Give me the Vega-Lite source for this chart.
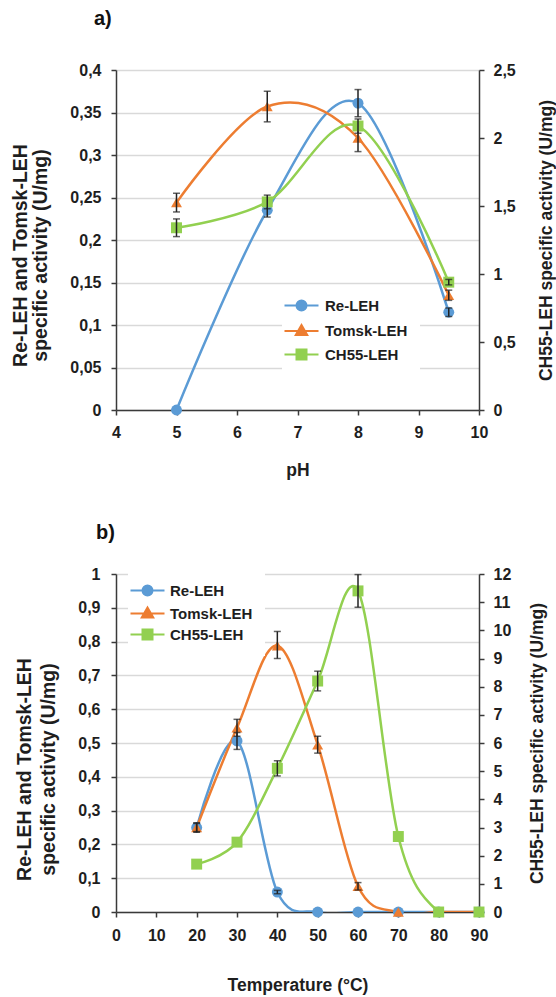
{
  "$schema": "https://vega.github.io/schema/vega-lite/v6.json",
  "padding": {"left": 10, "top": 9, "right": 5, "bottom": 5},
  "background": "white",
  "config": {
    "view": {"stroke": null},
    "font": "Liberation Sans",
    "locale": {"number": {"decimal": ",", "thousands": ".", "grouping": [3], "currency": ["", "€"]}},
    "axis": {
      "labelFont": "Liberation Sans", "labelFontWeight": "bold", "labelFontSize": 16, "labelColor": "#1e1e1e",
      "titleFont": "Liberation Sans", "titleFontWeight": "bold", "titleFontSize": 17.5, "titleColor": "#1e1e1e",
      "domainColor": "#3a3a3a", "domainWidth": 1.5, "tickColor": "#3a3a3a", "tickWidth": 1.5, "tickSize": 5,
      "gridColor": "#d9d9d9", "gridWidth": 1.5, "labelFlush": false, "labelOverlap": false, "labelBound": false
    },
    "legend": {"labelFont": "Liberation Sans", "labelFontWeight": "bold", "labelFontSize": 15, "labelColor": "#1e1e1e", "symbolStrokeWidth": 2, "symbolOpacity": 1},
    "title": {"font": "Liberation Sans", "fontWeight": "bold", "fontSize": 20, "color": "#111111"}
  },
  "datasets": {
    "ph": [
      {"s": "Re-LEH", "x": 5, "y": 0, "lo": null, "hi": null},
      {"s": "Re-LEH", "x": 6.5, "y": 0.235, "lo": 0.227, "hi": 0.243},
      {"s": "Re-LEH", "x": 8, "y": 0.361, "lo": 0.345, "hi": 0.377},
      {"s": "Re-LEH", "x": 9.5, "y": 0.115, "lo": 0.11, "hi": 0.12},
      {"s": "Tomsk-LEH", "x": 5, "y": 0.244, "lo": 0.233, "hi": 0.255},
      {"s": "Tomsk-LEH", "x": 6.5, "y": 0.357, "lo": 0.339, "hi": 0.375},
      {"s": "Tomsk-LEH", "x": 8, "y": 0.32, "lo": 0.304, "hi": 0.336},
      {"s": "Tomsk-LEH", "x": 9.5, "y": 0.135, "lo": 0.129, "hi": 0.141},
      {"s": "CH55-LEH", "x": 5, "y": 1.34, "lo": 1.275, "hi": 1.405},
      {"s": "CH55-LEH", "x": 6.5, "y": 1.53, "lo": 1.48, "hi": 1.58},
      {"s": "CH55-LEH", "x": 8, "y": 2.088, "lo": 2.035, "hi": 2.14},
      {"s": "CH55-LEH", "x": 9.5, "y": 0.94, "lo": 0.92, "hi": 0.96}
    ],
    "temp": [
      {"s": "Re-LEH", "x": 20, "y": 0.25, "lo": 0.238, "hi": 0.262},
      {"s": "Re-LEH", "x": 30, "y": 0.506, "lo": 0.481, "hi": 0.531},
      {"s": "Re-LEH", "x": 40, "y": 0.059, "lo": 0.054, "hi": 0.064},
      {"s": "Re-LEH", "x": 50, "y": 0, "lo": null, "hi": null},
      {"s": "Re-LEH", "x": 60, "y": 0, "lo": null, "hi": null},
      {"s": "Re-LEH", "x": 70, "y": 0, "lo": null, "hi": null},
      {"s": "Re-LEH", "x": 80, "y": 0, "lo": null, "hi": null},
      {"s": "Re-LEH", "x": 90, "y": 0, "lo": null, "hi": null},
      {"s": "Tomsk-LEH", "x": 20, "y": 0.25, "lo": 0.236, "hi": 0.264},
      {"s": "Tomsk-LEH", "x": 30, "y": 0.545, "lo": 0.52, "hi": 0.57},
      {"s": "Tomsk-LEH", "x": 40, "y": 0.788, "lo": 0.75, "hi": 0.83},
      {"s": "Tomsk-LEH", "x": 50, "y": 0.495, "lo": 0.47, "hi": 0.52},
      {"s": "Tomsk-LEH", "x": 60, "y": 0.076, "lo": 0.065, "hi": 0.087},
      {"s": "Tomsk-LEH", "x": 70, "y": 0, "lo": null, "hi": null},
      {"s": "Tomsk-LEH", "x": 80, "y": 0, "lo": null, "hi": null},
      {"s": "Tomsk-LEH", "x": 90, "y": 0, "lo": null, "hi": null},
      {"s": "CH55-LEH", "x": 20, "y": 1.7, "lo": null, "hi": null},
      {"s": "CH55-LEH", "x": 30, "y": 2.48, "lo": null, "hi": null},
      {"s": "CH55-LEH", "x": 40, "y": 5.1, "lo": 4.83, "hi": 5.37},
      {"s": "CH55-LEH", "x": 50, "y": 8.2, "lo": 7.85, "hi": 8.55},
      {"s": "CH55-LEH", "x": 60, "y": 11.4, "lo": 10.82, "hi": 11.98},
      {"s": "CH55-LEH", "x": 70, "y": 2.68, "lo": null, "hi": null},
      {"s": "CH55-LEH", "x": 80, "y": 0, "lo": null, "hi": null},
      {"s": "CH55-LEH", "x": 90, "y": 0, "lo": null, "hi": null}
    ]
  },
  "bounds": "flush",
  "spacing": 164,
  "resolve": {"scale": {"shape": "independent", "fill": "independent", "stroke": "independent", "x": "independent", "y": "independent"}, "legend": {"shape": "independent", "fill": "independent", "stroke": "independent"}},
  "vconcat": [
    {
      "title": {"text": "a)", "anchor": "start", "frame": "group", "dx": -22, "offset": 33},
      "width": 363,
      "height": 340,
      "data": {"name": "ph"},
      "layer": [
        {
          "layer": [
            {
              "transform": [{"filter": "datum.s === 'Re-LEH'"}],
              "mark": {"type": "line", "interpolate": "cardinal", "strokeWidth": 2.5, "clip": true, "color": "#5B9BD5"},
              "encoding": {
                "x": {"field": "x", "type": "quantitative", "scale": {"domain": [4, 10], "nice": false}, "axis": {"title": "pH", "values": [4, 5, 6, 7, 8, 9, 10], "format": "d", "grid": false, "labelPadding": 9, "titlePadding": 21, "labelOverlap": false}},
                "y": {"field": "y", "type": "quantitative", "scale": {"domain": [0, 0.4], "nice": false}, "axis": {"title": ["Re-LEH and Tomsk-LEH", "specific activity  (U/mg)"], "values": [0, 0.05, 0.1, 0.15, 0.2, 0.25, 0.3, 0.35, 0.4], "format": "~g", "grid": true, "labelPadding": 10, "titlePadding": 19, "titleLineHeight": 20, "titleFontSize": 19.5, "titleY": 185, "labelOverlap": false}}
              }
            },
            {
              "transform": [{"filter": "datum.s === 'Tomsk-LEH'"}],
              "mark": {"type": "line", "interpolate": "cardinal", "strokeWidth": 2.5, "clip": true, "color": "#ED7D31"},
              "encoding": {
                "x": {"field": "x", "type": "quantitative", "axis": {"title": "pH", "values": [4, 5, 6, 7, 8, 9, 10], "format": "d", "grid": false, "labelPadding": 9, "titlePadding": 21, "labelOverlap": false}},
                "y": {"field": "y", "type": "quantitative", "axis": {"title": ["Re-LEH and Tomsk-LEH", "specific activity  (U/mg)"], "values": [0, 0.05, 0.1, 0.15, 0.2, 0.25, 0.3, 0.35, 0.4], "format": "~g", "grid": true, "labelPadding": 10, "titlePadding": 19, "titleLineHeight": 20, "titleFontSize": 19.5, "titleY": 185, "labelOverlap": false}}
              }
            },
            {
              "transform": [{"filter": "datum.s === 'Re-LEH'"}],
              "mark": {"type": "point", "filled": true, "shape": "circle", "size": 120, "opacity": 1, "color": "#5B9BD5"},
              "encoding": {
                "x": {"field": "x", "type": "quantitative", "axis": {"title": "pH", "values": [4, 5, 6, 7, 8, 9, 10], "format": "d", "grid": false, "labelPadding": 9, "titlePadding": 21, "labelOverlap": false}},
                "y": {"field": "y", "type": "quantitative", "axis": {"title": ["Re-LEH and Tomsk-LEH", "specific activity  (U/mg)"], "values": [0, 0.05, 0.1, 0.15, 0.2, 0.25, 0.3, 0.35, 0.4], "format": "~g", "grid": true, "labelPadding": 10, "titlePadding": 19, "titleLineHeight": 20, "titleFontSize": 19.5, "titleY": 185, "labelOverlap": false}}
              }
            },
            {
              "transform": [{"filter": "datum.s === 'Tomsk-LEH'"}],
              "mark": {"type": "point", "filled": true, "shape": "triangle-up", "size": 120, "opacity": 1, "color": "#ED7D31"},
              "encoding": {
                "x": {"field": "x", "type": "quantitative", "axis": {"title": "pH", "values": [4, 5, 6, 7, 8, 9, 10], "format": "d", "grid": false, "labelPadding": 9, "titlePadding": 21, "labelOverlap": false}},
                "y": {"field": "y", "type": "quantitative", "axis": {"title": ["Re-LEH and Tomsk-LEH", "specific activity  (U/mg)"], "values": [0, 0.05, 0.1, 0.15, 0.2, 0.25, 0.3, 0.35, 0.4], "format": "~g", "grid": true, "labelPadding": 10, "titlePadding": 19, "titleLineHeight": 20, "titleFontSize": 19.5, "titleY": 185, "labelOverlap": false}}
              }
            },
            {
              "transform": [{"filter": "datum.s !== 'CH55-LEH' && isValid(datum.lo)"}],
              "mark": {"type": "errorbar", "color": "#222222", "thickness": 1.5, "ticks": {"size": 7}},
              "encoding": {
                "x": {"field": "x", "type": "quantitative", "axis": {"title": "pH", "values": [4, 5, 6, 7, 8, 9, 10], "format": "d", "grid": false, "labelPadding": 9, "titlePadding": 21, "labelOverlap": false}},
                "y": {"field": "lo", "type": "quantitative", "axis": {"title": ["Re-LEH and Tomsk-LEH", "specific activity  (U/mg)"], "values": [0, 0.05, 0.1, 0.15, 0.2, 0.25, 0.3, 0.35, 0.4], "format": "~g", "grid": true, "labelPadding": 10, "titlePadding": 19, "titleLineHeight": 20, "titleFontSize": 19.5, "titleY": 185, "labelOverlap": false}},
                "y2": {"field": "hi"}
              }
            },
            {
              "transform": [{"filter": "false"}],
              "mark": {"type": "point", "filled": true, "strokeWidth": 2, "size": 100, "opacity": 1},
              "encoding": {
                "x": {"field": "x", "type": "quantitative", "axis": {"title": "pH", "values": [4, 5, 6, 7, 8, 9, 10], "format": "d", "grid": false, "labelPadding": 9, "titlePadding": 21, "labelOverlap": false}},
                "y": {"field": "y", "type": "quantitative", "axis": {"title": ["Re-LEH and Tomsk-LEH", "specific activity  (U/mg)"], "values": [0, 0.05, 0.1, 0.15, 0.2, 0.25, 0.3, 0.35, 0.4], "format": "~g", "grid": true, "labelPadding": 10, "titlePadding": 19, "titleLineHeight": 20, "titleFontSize": 19.5, "titleY": 185, "labelOverlap": false}},
                "fill": {"field": "s", "type": "nominal", "scale": {"domain": ["Re-LEH", "Tomsk-LEH", "CH55-LEH"], "range": ["#5B9BD5", "#ED7D31", "#92D050"]},
                  "legend": {"orient": "none", "legendX": 166, "legendY": 216, "title": null, "padding": 12, "fillColor": "white", "symbolSize": 100, "labelOffset": 16, "rowPadding": 5.5}},
                "stroke": {"field": "s", "type": "nominal", "scale": {"domain": ["Re-LEH", "Tomsk-LEH", "CH55-LEH"], "range": ["#5B9BD5", "#ED7D31", "#92D050"]},
                  "legend": {"orient": "none", "legendX": 166, "legendY": 216, "title": null, "padding": 12, "fillColor": "white", "symbolSize": 100, "labelOffset": 16, "rowPadding": 5.5}},
                "shape": {"field": "s", "type": "nominal", "scale": {"domain": ["Re-LEH", "Tomsk-LEH", "CH55-LEH"], "range": ["M-3.4,0H3.4M1,0A1,1,0,1,1,-1,0A1,1,0,1,1,1,0Z", "M-3.4,0H3.4M0,-1.2L1.15,0.8L-1.15,0.8Z", "M-3.4,0H3.4M-1,-1H1V1H-1Z"]},
                  "legend": {"orient": "none", "legendX": 166, "legendY": 216, "title": null, "padding": 12, "fillColor": "white", "symbolSize": 100, "labelOffset": 16, "rowPadding": 5.5}}
              }
            }
          ]
        },
        {
          "layer": [
            {
              "transform": [{"filter": "datum.s === 'CH55-LEH'"}],
              "mark": {"type": "line", "interpolate": "cardinal", "strokeWidth": 2.5, "clip": true, "color": "#92D050"},
              "encoding": {
                "x": {"field": "x", "type": "quantitative"},
                "y": {"field": "y", "type": "quantitative", "scale": {"domain": [0, 2.5], "nice": false}, "axis": {"title": "CH55-LEH specific activity  (U/mg)", "values": [0, 0.5, 1, 1.5, 2, 2.5], "format": "~g", "grid": false, "labelPadding": 9, "titlePadding": 22, "titleAngle": 270, "titleBaseline": "top", "labelOverlap": false}}
              }
            },
            {
              "transform": [{"filter": "datum.s === 'CH55-LEH'"}],
              "mark": {"type": "point", "filled": true, "shape": "square", "size": 120, "opacity": 1, "color": "#92D050"},
              "encoding": {
                "x": {"field": "x", "type": "quantitative"},
                "y": {"field": "y", "type": "quantitative", "axis": {"title": "CH55-LEH specific activity  (U/mg)", "values": [0, 0.5, 1, 1.5, 2, 2.5], "format": "~g", "grid": false, "labelPadding": 9, "titlePadding": 22, "titleAngle": 270, "titleBaseline": "top", "labelOverlap": false}}
              }
            },
            {
              "transform": [{"filter": "datum.s === 'CH55-LEH' && isValid(datum.lo)"}],
              "mark": {"type": "errorbar", "color": "#222222", "thickness": 1.5, "ticks": {"size": 7}},
              "encoding": {
                "x": {"field": "x", "type": "quantitative"},
                "y": {"field": "lo", "type": "quantitative", "axis": {"title": "CH55-LEH specific activity  (U/mg)", "values": [0, 0.5, 1, 1.5, 2, 2.5], "format": "~g", "grid": false, "labelPadding": 9, "titlePadding": 22, "titleAngle": 270, "titleBaseline": "top", "labelOverlap": false}},
                "y2": {"field": "hi"}
              }
            }
          ]
        }
      ],
      "resolve": {"scale": {"y": "independent"}}
    },
    {
      "title": {"text": "b)", "anchor": "start", "frame": "group", "dx": -20, "offset": 23},
      "width": 363,
      "height": 338,
      "data": {"name": "temp"},
      "layer": [
        {
          "layer": [
            {
              "transform": [{"filter": "datum.s === 'Re-LEH'"}],
              "mark": {"type": "line", "interpolate": "cardinal", "strokeWidth": 2.5, "clip": true, "color": "#5B9BD5"},
              "encoding": {
                "x": {"field": "x", "type": "quantitative", "scale": {"domain": [0, 90], "nice": false}, "axis": {"title": "Temperature (°C)", "values": [0, 10, 20, 30, 40, 50, 60, 70, 80, 90], "format": "d", "grid": false, "labelPadding": 10, "titlePadding": 33, "labelOverlap": false}},
                "y": {"field": "y", "type": "quantitative", "scale": {"domain": [0, 1], "nice": false}, "axis": {"title": ["Re-LEH and Tomsk-LEH", "specific activity  (U/mg)"], "values": [0, 0.1, 0.2, 0.3, 0.4, 0.5, 0.6, 0.7, 0.8, 0.9, 1], "format": "~g", "grid": true, "labelPadding": 11, "titlePadding": 19, "titleLineHeight": 24, "titleFontSize": 19.5, "titleY": 195, "labelOverlap": false}}
              }
            },
            {
              "transform": [{"filter": "datum.s === 'Tomsk-LEH'"}],
              "mark": {"type": "line", "interpolate": "cardinal", "strokeWidth": 2.5, "clip": true, "color": "#ED7D31"},
              "encoding": {
                "x": {"field": "x", "type": "quantitative", "axis": {"title": "Temperature (°C)", "values": [0, 10, 20, 30, 40, 50, 60, 70, 80, 90], "format": "d", "grid": false, "labelPadding": 10, "titlePadding": 33, "labelOverlap": false}},
                "y": {"field": "y", "type": "quantitative", "axis": {"title": ["Re-LEH and Tomsk-LEH", "specific activity  (U/mg)"], "values": [0, 0.1, 0.2, 0.3, 0.4, 0.5, 0.6, 0.7, 0.8, 0.9, 1], "format": "~g", "grid": true, "labelPadding": 11, "titlePadding": 19, "titleLineHeight": 24, "titleFontSize": 19.5, "titleY": 195, "labelOverlap": false}}
              }
            },
            {
              "transform": [{"filter": "datum.s === 'Re-LEH'"}],
              "mark": {"type": "point", "filled": true, "shape": "circle", "size": 120, "opacity": 1, "color": "#5B9BD5"},
              "encoding": {
                "x": {"field": "x", "type": "quantitative", "axis": {"title": "Temperature (°C)", "values": [0, 10, 20, 30, 40, 50, 60, 70, 80, 90], "format": "d", "grid": false, "labelPadding": 10, "titlePadding": 33, "labelOverlap": false}},
                "y": {"field": "y", "type": "quantitative", "axis": {"title": ["Re-LEH and Tomsk-LEH", "specific activity  (U/mg)"], "values": [0, 0.1, 0.2, 0.3, 0.4, 0.5, 0.6, 0.7, 0.8, 0.9, 1], "format": "~g", "grid": true, "labelPadding": 11, "titlePadding": 19, "titleLineHeight": 24, "titleFontSize": 19.5, "titleY": 195, "labelOverlap": false}}
              }
            },
            {
              "transform": [{"filter": "datum.s === 'Tomsk-LEH'"}],
              "mark": {"type": "point", "filled": true, "shape": "triangle-up", "size": 120, "opacity": 1, "color": "#ED7D31"},
              "encoding": {
                "x": {"field": "x", "type": "quantitative", "axis": {"title": "Temperature (°C)", "values": [0, 10, 20, 30, 40, 50, 60, 70, 80, 90], "format": "d", "grid": false, "labelPadding": 10, "titlePadding": 33, "labelOverlap": false}},
                "y": {"field": "y", "type": "quantitative", "axis": {"title": ["Re-LEH and Tomsk-LEH", "specific activity  (U/mg)"], "values": [0, 0.1, 0.2, 0.3, 0.4, 0.5, 0.6, 0.7, 0.8, 0.9, 1], "format": "~g", "grid": true, "labelPadding": 11, "titlePadding": 19, "titleLineHeight": 24, "titleFontSize": 19.5, "titleY": 195, "labelOverlap": false}}
              }
            },
            {
              "transform": [{"filter": "datum.s !== 'CH55-LEH' && isValid(datum.lo)"}],
              "mark": {"type": "errorbar", "color": "#222222", "thickness": 1.5, "ticks": {"size": 7}},
              "encoding": {
                "x": {"field": "x", "type": "quantitative", "axis": {"title": "Temperature (°C)", "values": [0, 10, 20, 30, 40, 50, 60, 70, 80, 90], "format": "d", "grid": false, "labelPadding": 10, "titlePadding": 33, "labelOverlap": false}},
                "y": {"field": "lo", "type": "quantitative", "axis": {"title": ["Re-LEH and Tomsk-LEH", "specific activity  (U/mg)"], "values": [0, 0.1, 0.2, 0.3, 0.4, 0.5, 0.6, 0.7, 0.8, 0.9, 1], "format": "~g", "grid": true, "labelPadding": 11, "titlePadding": 19, "titleLineHeight": 24, "titleFontSize": 19.5, "titleY": 195, "labelOverlap": false}},
                "y2": {"field": "hi"}
              }
            },
            {
              "transform": [{"filter": "false"}],
              "mark": {"type": "point", "filled": true, "strokeWidth": 2, "size": 100, "opacity": 1},
              "encoding": {
                "x": {"field": "x", "type": "quantitative", "axis": {"title": "Temperature (°C)", "values": [0, 10, 20, 30, 40, 50, 60, 70, 80, 90], "format": "d", "grid": false, "labelPadding": 10, "titlePadding": 33, "labelOverlap": false}},
                "y": {"field": "y", "type": "quantitative", "axis": {"title": ["Re-LEH and Tomsk-LEH", "specific activity  (U/mg)"], "values": [0, 0.1, 0.2, 0.3, 0.4, 0.5, 0.6, 0.7, 0.8, 0.9, 1], "format": "~g", "grid": true, "labelPadding": 11, "titlePadding": 19, "titleLineHeight": 24, "titleFontSize": 19.5, "titleY": 195, "labelOverlap": false}},
                "fill": {"field": "s", "type": "nominal", "scale": {"domain": ["Re-LEH", "Tomsk-LEH", "CH55-LEH"], "range": ["#5B9BD5", "#ED7D31", "#92D050"]},
                  "legend": {"orient": "none", "legendX": 12, "legendY": -3, "title": null, "padding": 12, "fillColor": "white", "symbolSize": 100, "labelOffset": 15, "rowPadding": 3}},
                "stroke": {"field": "s", "type": "nominal", "scale": {"domain": ["Re-LEH", "Tomsk-LEH", "CH55-LEH"], "range": ["#5B9BD5", "#ED7D31", "#92D050"]},
                  "legend": {"orient": "none", "legendX": 12, "legendY": -3, "title": null, "padding": 12, "fillColor": "white", "symbolSize": 100, "labelOffset": 15, "rowPadding": 3}},
                "shape": {"field": "s", "type": "nominal", "scale": {"domain": ["Re-LEH", "Tomsk-LEH", "CH55-LEH"], "range": ["M-3.4,0H3.4M1,0A1,1,0,1,1,-1,0A1,1,0,1,1,1,0Z", "M-3.4,0H3.4M0,-1.2L1.15,0.8L-1.15,0.8Z", "M-3.4,0H3.4M-1,-1H1V1H-1Z"]},
                  "legend": {"orient": "none", "legendX": 12, "legendY": -3, "title": null, "padding": 12, "fillColor": "white", "symbolSize": 100, "labelOffset": 15, "rowPadding": 3}}
              }
            }
          ]
        },
        {
          "layer": [
            {
              "transform": [{"filter": "datum.s === 'CH55-LEH'"}],
              "mark": {"type": "line", "interpolate": "cardinal", "strokeWidth": 2.5, "clip": true, "color": "#92D050"},
              "encoding": {
                "x": {"field": "x", "type": "quantitative"},
                "y": {"field": "y", "type": "quantitative", "scale": {"domain": [0, 12], "nice": false}, "axis": {"title": "CH55-LEH specific activity  (U/mg)", "values": [0, 1, 2, 3, 4, 5, 6, 7, 8, 9, 10, 11, 12], "format": "d", "grid": false, "labelPadding": 9, "titlePadding": 18, "titleAngle": 270, "titleBaseline": "top", "labelOverlap": false}}
              }
            },
            {
              "transform": [{"filter": "datum.s === 'CH55-LEH'"}],
              "mark": {"type": "point", "filled": true, "shape": "square", "size": 120, "opacity": 1, "color": "#92D050"},
              "encoding": {
                "x": {"field": "x", "type": "quantitative"},
                "y": {"field": "y", "type": "quantitative", "axis": {"title": "CH55-LEH specific activity  (U/mg)", "values": [0, 1, 2, 3, 4, 5, 6, 7, 8, 9, 10, 11, 12], "format": "d", "grid": false, "labelPadding": 9, "titlePadding": 18, "titleAngle": 270, "titleBaseline": "top", "labelOverlap": false}}
              }
            },
            {
              "transform": [{"filter": "datum.s === 'CH55-LEH' && isValid(datum.lo)"}],
              "mark": {"type": "errorbar", "color": "#222222", "thickness": 1.5, "ticks": {"size": 7}},
              "encoding": {
                "x": {"field": "x", "type": "quantitative"},
                "y": {"field": "lo", "type": "quantitative", "axis": {"title": "CH55-LEH specific activity  (U/mg)", "values": [0, 1, 2, 3, 4, 5, 6, 7, 8, 9, 10, 11, 12], "format": "d", "grid": false, "labelPadding": 9, "titlePadding": 18, "titleAngle": 270, "titleBaseline": "top", "labelOverlap": false}},
                "y2": {"field": "hi"}
              }
            }
          ]
        }
      ],
      "resolve": {"scale": {"y": "independent"}}
    }
  ]
}
